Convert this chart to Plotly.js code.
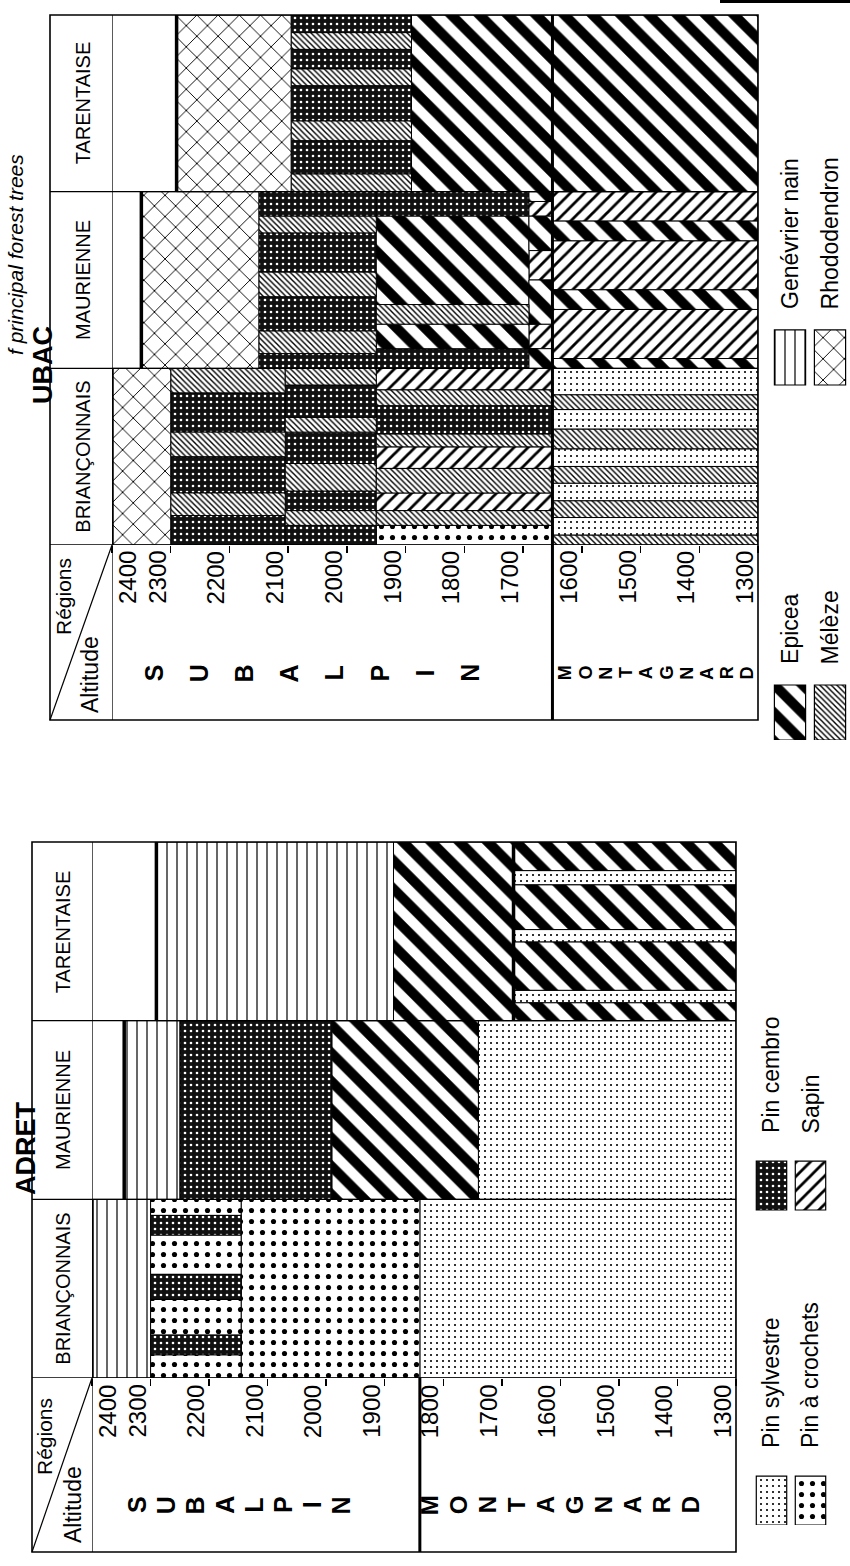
<!DOCTYPE html>
<html>
<head>
<meta charset="utf-8">
<script src="https://cdn.plot.ly/plotly-3.0.1.min.js"></script>
<style>html,body{margin:0;padding:0;background:#fff;overflow:hidden}</style>
</head>
<body>
<div id="chart" style="width:850px;height:1566px"></div>
<script>
// ---------------- DATA ----------------
const regions = ['BRIANÇONNAIS', 'MAURIENNE', 'TARENTAISE'];
const altTicks = [2400, 2300, 2200, 2100, 2000, 1900, 1800, 1700, 1600, 1500, 1400, 1300];
const speciesCodes  = ['SYL', 'CRO', 'CEM', 'SAP', 'EPI', 'MEL', 'GEN', 'RHO'];
const speciesLabels = ['Pin sylvestre', 'Pin à crochets', 'Pin cembro', 'Sapin', 'Epicea', 'Mélèze', 'Genévrier nain', 'Rhododendron'];

// ADRET : one row per segment (region index, upper / lower altitude, species of the sub-stripes across the column, their shares)
const adretRegion  = [0, 0, 0, 0, 1, 1, 1, 1, 2, 2, 2];
const adretTop     = [2400, 2300, 2145, 1840, 2345, 2250, 1990, 1740, 2290, 1885, 1680];
const adretBottom  = [2300, 2145, 1840, 1300, 2250, 1990, 1740, 1300, 1885, 1680, 1300];
const adretStripes = [
  ['GEN'], ['CRO', 'CEM', 'CRO', 'CEM', 'CRO', 'CEM', 'CRO'], ['CRO'], ['SYL'],
  ['GEN'], ['CEM'], ['EPI'], ['SYL'],
  ['GEN'], ['EPI'], ['EPI', 'SYL', 'EPI', 'SYL', 'EPI', 'SYL', 'EPI']
];
const adretShares = [
  [1], [13, 11, 20, 14, 22, 11, 9], [1], [1],
  [1], [1], [1], [1],
  [1], [1], [10, 7, 27, 7, 25, 8, 16]
];
const adretLimitRegion = [0, 1, 2, 2];
const adretLimitAlt    = [2400, 2345, 2290, 1680];
const adretZoneLimit   = 1840;

// UBAC
const ubacRegion  = [0, 0, 0, 0, 0, 1, 1, 1, 1, 1, 2, 2, 2];
const ubacTop     = [2400, 2300, 2105, 1950, 1650, 2350, 2150, 1950, 1690, 1650, 2290, 2095, 1890];
const ubacBottom  = [2300, 2105, 1950, 1650, 1300, 2150, 1950, 1690, 1650, 1300, 2095, 1890, 1300];
const ubacStripes = [
  ['RHO'],
  ['CEM', 'MEL', 'CEM', 'MEL', 'CEM', 'MEL'],
  ['CEM', 'MEL', 'CEM', 'MEL', 'CEM', 'MEL', 'CEM', 'MEL'],
  ['CRO', 'MEL', 'SAP', 'MEL', 'SAP', 'MEL', 'CEM', 'MEL', 'SAP'],
  ['MEL', 'SYL', 'MEL', 'SYL', 'MEL', 'SYL', 'MEL', 'SYL', 'MEL', 'SYL'],
  ['RHO'],
  ['CEM', 'MEL', 'CEM', 'MEL', 'CEM', 'MEL', 'CEM'],
  ['CEM', 'EPI', 'MEL', 'EPI', 'CEM'],
  ['EPI', 'SAP', 'EPI', 'SAP', 'EPI', 'SAP', 'EPI'],
  ['EPI', 'SAP', 'EPI', 'SAP', 'EPI', 'SAP'],
  ['RHO'],
  ['MEL', 'CEM', 'MEL', 'CEM', 'MEL', 'CEM', 'MEL', 'CEM'],
  ['EPI']
];
const ubacShares = [
  [1],
  [30, 23, 37, 25, 40, 25],
  [20, 15, 20, 28, 32, 15, 33, 17],
  [20, 15, 18, 25, 22, 13, 29, 16, 22],
  [10, 18, 17, 18, 17, 18, 20, 20, 15, 27],
  [1],
  [15, 23, 35, 25, 40, 17, 25],
  [20, 25, 20, 90, 25],
  [20, 25, 45, 30, 35, 15, 10],
  [10, 50, 20, 50, 20, 30],
  [1],
  [18, 34, 20, 36, 17, 20, 17, 18],
  [1]
];
const ubacLimitRegion = [0, 1, 2];
const ubacLimitAlt    = [2400, 2350, 2290];
const ubacZoneLimit   = 1650;

const zoneWords = ['SUBALPIN', 'MONTAGNARD'];
const adretLegendCodes = ['SYL', 'CRO', 'CEM', 'SAP'];
const ubacLegendCodes  = ['EPI', 'MEL', 'GEN', 'RHO'];
const titleText = 'f principal forest trees';

// ---------------- STYLE ----------------
const FONT = 'Liberation Sans, Arial, sans-serif';
const patternStyle = {
  SYL: {shape: '.',  size: 6,  solidity: 0.10, fgcolor: '#000', bgcolor: '#fff'},
  CRO: {shape: '.',  size: 11, solidity: 0.17, fgcolor: '#000', bgcolor: '#fff'},
  CEM: {shape: '.',  size: 6,  solidity: 0.15, fgcolor: '#fff', bgcolor: '#111'},
  SAP: {shape: '/',  size: 10, solidity: 0.28, fgcolor: '#000', bgcolor: '#fff'},
  EPI: {shape: '\\', size: 20, solidity: 0.50, fgcolor: '#000', bgcolor: '#fff'},
  MEL: {shape: '\\', size: 4,  solidity: 0.35, fgcolor: '#000', bgcolor: '#fff'},
  GEN: {shape: '|',  size: 10, solidity: 0.12, fgcolor: '#000', bgcolor: '#fff'},
  RHO: {shape: 'x',  size: 15, solidity: 0.12, fgcolor: '#000', bgcolor: '#fff'}
};

const W = 850, H = 1566;
const px = v => v / W;
const py = v => 1 - v / H;

const panels = [
  {name: 'ADRET', xa: 'x', ya: 'y',
   region: adretRegion, top: adretTop, bottom: adretBottom, stripes: adretStripes, shares: adretShares,
   limitRegion: adretLimitRegion, limitAlt: adretLimitAlt, zoneLimit: adretZoneLimit,
   frameL: 32, a2400: 92, a1300: 736, colTop: 842, colBot: 1378, frameB: 1552,
   labelY: 1384, letterY: 1505, headMid: 63, titleX: 26, titleY: 1148,
   regX: 44, regY: 1437, altX: 73, altY: 1505, sepFull: false,
   letterSpans: [[2323, 1974], [1824, 1378]], letterSizes: [25, 24]},
  {name: 'UBAC', xa: 'x2', ya: 'y2',
   region: ubacRegion, top: ubacTop, bottom: ubacBottom, stripes: ubacStripes, shares: ubacShares,
   limitRegion: ubacLimitRegion, limitAlt: ubacLimitAlt, zoneLimit: ubacZoneLimit,
   frameL: 50, a2400: 112, a1300: 758, colTop: 15, colBot: 545, frameB: 720,
   labelY: 550, letterY: 673, headMid: 83, titleX: 43, titleY: 365,
   regX: 63, regY: 596, altX: 90, altY: 675, sepFull: true,
   letterSpans: [[2328, 1791], [1628, 1318]], letterSizes: [25, 18]}
];

function buildRects(region, top, bottom, stripes, shares) {
  const out = {};
  region.forEach((r, i) => {
    const tot = shares[i].reduce((a, b) => a + b, 0);
    let acc = 0;
    stripes[i].forEach((sp, j) => {
      const f0 = acc / tot; acc += shares[i][j]; const f1 = acc / tot;
      if (!out[sp]) out[sp] = {y: [], w: [], base: [], len: []};
      out[sp].y.push(r + (f0 + f1) / 2);
      out[sp].w.push(f1 - f0);
      out[sp].base.push(bottom[i]);
      out[sp].len.push(top[i] - bottom[i]);
    });
  });
  return out;
}

const data = [], annotations = [], shapes = [];
const layout = {
  width: W, height: H, margin: {l: 0, r: 0, t: 0, b: 0},
  paper_bgcolor: '#fff', plot_bgcolor: 'rgba(0,0,0,0)',
  barmode: 'overlay', showlegend: false, font: {family: FONT, color: '#000'}
};

function label(opts) {
  return Object.assign({showarrow: false, xanchor: 'center', yanchor: 'middle', textangle: -90,
                        borderpad: 0}, opts);
}

panels.forEach((P, pi) => {
  const sfx = pi === 0 ? '' : '2';
  layout['xaxis' + sfx] = {
    domain: [px(P.a2400), px(P.a1300)], range: [2400, 1300], anchor: P.ya, side: 'bottom',
    tickvals: altTicks, ticks: 'outside', ticklen: 7, tickwidth: 1.5, tickcolor: '#000',
    showticklabels: false, showgrid: false, zeroline: false, showline: false, fixedrange: true
  };
  layout['yaxis' + sfx] = {
    domain: [py(P.colBot), py(P.colTop)], range: [0, 3], anchor: P.xa,
    visible: false, fixedrange: true
  };

  const rects = buildRects(P.region, P.top, P.bottom, P.stripes, P.shares);
  speciesCodes.forEach((sp, k) => {
    const r = rects[sp];
    if (!r) return;
    data.push({
      type: 'bar', orientation: 'h', name: speciesLabels[k],
      y: r.y, x: r.len, base: r.base, width: r.w,
      xaxis: P.xa, yaxis: P.ya,
      marker: {color: '#fff', line: {color: '#000', width: 1}, pattern: Object.assign({fillmode: 'replace'}, patternStyle[sp])},
      hoverinfo: 'skip', showlegend: false
    });
  });

  const lx = [], ly = [];
  P.limitRegion.forEach((c, i) => { lx.push(P.limitAlt[i], P.limitAlt[i], null); ly.push(c, c + 1, null); });
  data.push({type: 'scatter', mode: 'lines', x: lx, y: ly, xaxis: P.xa, yaxis: P.ya,
             line: {color: '#000', width: 3.5}, hoverinfo: 'skip', showlegend: false});

  // table frame
  shapes.push({type: 'rect', xref: 'paper', yref: 'paper', x0: px(P.frameL), x1: px(P.a1300),
               y0: py(P.frameB), y1: py(P.colTop), line: {color: '#000', width: 1.6}});
  [0, 1, 2].forEach(c => shapes.push({type: 'line', xref: 'paper', yref: P.ya,
               x0: px(P.frameL), x1: px(P.a1300), y0: c, y1: c, line: {color: '#000', width: 1.3}}));
  shapes.push({type: 'line', xref: P.xa, yref: 'paper', x0: 2400, x1: 2400,
               y0: py(P.frameB), y1: py(P.colTop), line: {color: '#000', width: 1.3}});
  shapes.push({type: 'line', xref: 'paper', yref: 'paper', x0: px(P.frameL), y0: py(P.frameB),
               x1: px(P.a2400), y1: py(P.colBot), line: {color: '#000', width: 1.2}});
  shapes.push({type: 'line', xref: P.xa, yref: 'paper', x0: P.zoneLimit, x1: P.zoneLimit,
               y0: py(P.frameB), y1: py(P.sepFull ? P.colTop : P.colBot), line: {color: '#000', width: 3}});

  // tick labels (beside their tick, 2400 inside the column)
  altTicks.forEach(a => annotations.push(label({
    xref: P.xa, x: a, yref: 'paper', y: py(P.labelY),
    xanchor: a === 2400 ? 'left' : 'right', yanchor: 'top', xshift: 1,
    text: String(a), font: {family: FONT, size: 24}
  })));
  // zone letters
  zoneWords.forEach((word, z) => {
    const [a0, a1] = P.letterSpans[z];
    word.split('').forEach((ch, i) => annotations.push(label({
      xref: P.xa, x: a0 + (a1 - a0) * i / (word.length - 1), yref: 'paper', y: py(P.letterY),
      text: ch, font: {family: FONT, size: P.letterSizes[z], weight: 'bold'}
    })));
  });
  // region headers
  regions.forEach((rn, c) => annotations.push(label({
    xref: 'paper', x: px(P.headMid), yref: P.ya, y: c + 0.5,
    text: rn, font: {family: FONT, size: 20}
  })));
  annotations.push(label({xref: 'paper', yref: 'paper', x: px(P.regX), y: py(P.regY),
                    text: 'Régions', font: {family: FONT, size: 21}}));
  annotations.push(label({xref: 'paper', yref: 'paper', x: px(P.altX), y: py(P.altY),
                    text: 'Altitude', font: {family: FONT, size: 23}}));
  annotations.push(label({xref: 'paper', yref: 'paper', x: px(P.titleX), y: py(P.titleY),
                    text: P.name, font: {family: FONT, size: 27, weight: 'bold'}}));
});

// ---------------- LEGENDS ----------------
const legends = [
  {codes: adretLegendCodes, xa: 'x3', ya: 'y3', xd: [752, 830], yd: [1525, 895], textOff: 0.24},
  {codes: ubacLegendCodes,  xa: 'x4', ya: 'y4', xd: [770, 850], yd: [740, 30],  textOff: 0.21}
];
legends.forEach((L, li) => {
  const sfx = li === 0 ? '3' : '4';
  layout['xaxis' + sfx] = {domain: [px(L.xd[0]), px(L.xd[1])], range: [0, 2], anchor: L.ya, visible: false, fixedrange: true};
  layout['yaxis' + sfx] = {domain: [py(L.yd[0]), py(L.yd[1])], range: [0, 2], anchor: L.xa, visible: false, fixedrange: true};
  L.codes.forEach((sp, i) => {
    const col = Math.floor(i / 2), row = i % 2;
    data.push({
      type: 'bar', x: [row + 0.5], y: [0.155], base: [col], width: [0.78],
      xaxis: L.xa, yaxis: L.ya, name: speciesLabels[speciesCodes.indexOf(sp)],
      marker: {color: '#fff', line: {color: '#000', width: 1.2}, pattern: Object.assign({fillmode: 'replace'}, patternStyle[sp])},
      hoverinfo: 'skip', showlegend: false
    });
    annotations.push(label({
      xref: L.xa, x: row + 0.5, yref: L.ya, y: col + L.textOff, yanchor: 'bottom',
      text: speciesLabels[speciesCodes.indexOf(sp)], font: {family: FONT, size: 23}
    }));
  });
});

// title fragment and page edge line
annotations.push(label({xref: 'paper', yref: 'paper', x: px(15), y: py(255), text: titleText,
                  font: {family: FONT, size: 21, style: 'italic'}}));
shapes.push({type: 'line', xref: 'paper', yref: 'paper', x0: px(720), x1: 1, y0: py(1.5), y1: py(1.5),
             line: {color: '#000', width: 3}});

layout.annotations = annotations;
layout.shapes = shapes;

Plotly.newPlot('chart', data, layout, {staticPlot: true, displayModeBar: false});
</script>
</body>
</html>
